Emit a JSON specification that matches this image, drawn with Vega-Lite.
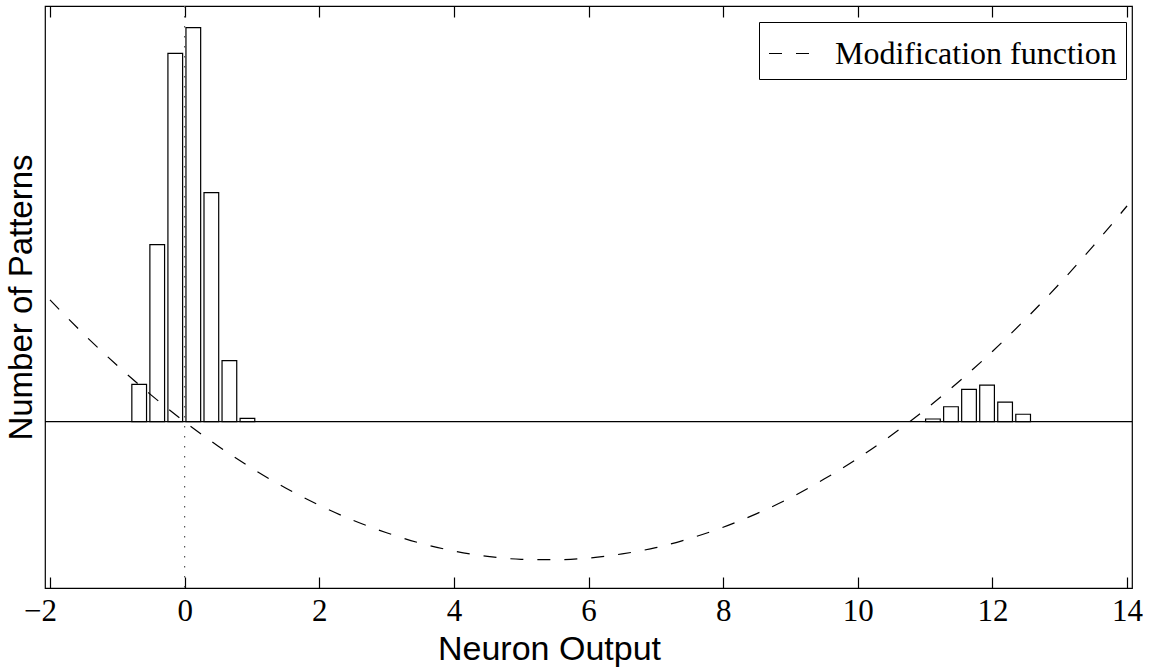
{
  "$schema": "https://vega.github.io/schema/vega-lite/v6.json",
  "autosize": "none",
  "width": 1087,
  "height": 582,
  "padding": {"left": 45, "top": 6, "right": 24, "bottom": 81},
  "background": "white",
  "config": {
    "view": {"stroke": "black", "strokeWidth": 1.2},
    "axis": {"labelFont": "Liberation Serif", "titleFont": "Liberation Sans", "titleFontWeight": "normal", "labelColor": "black", "titleColor": "black", "tickColor": "black", "domainColor": "black", "grid": false}
  },
  "datasets": {
    "hist": [
      {"x": -0.675, "count": 0.090},
      {"x": -0.407, "count": 0.426},
      {"x": -0.139, "count": 0.886},
      {"x": 0.129, "count": 0.948},
      {"x": 0.397, "count": 0.551},
      {"x": 0.665, "count": 0.147},
      {"x": 0.933, "count": 0.008},
      {"x": 11.117, "count": 0.0065},
      {"x": 11.385, "count": 0.036},
      {"x": 11.653, "count": 0.078},
      {"x": 11.921, "count": 0.088},
      {"x": 12.189, "count": 0.047},
      {"x": 12.457, "count": 0.018}
    ],
    "curve": [
      {"x": -2, "f": 0.293, "series": "Modification function"},
      {"x": -1.5, "f": 0.211, "series": "Modification function"},
      {"x": -1, "f": 0.135, "series": "Modification function"},
      {"x": -0.5, "f": 0.0646, "series": "Modification function"},
      {"x": 0, "f": 0, "series": "Modification function"},
      {"x": 0.5, "f": -0.0589, "series": "Modification function"},
      {"x": 1, "f": -0.112, "series": "Modification function"},
      {"x": 1.5, "f": -0.1595, "series": "Modification function"},
      {"x": 2, "f": -0.201, "series": "Modification function"},
      {"x": 2.5, "f": -0.237, "series": "Modification function"},
      {"x": 3, "f": -0.267, "series": "Modification function"},
      {"x": 3.5, "f": -0.292, "series": "Modification function"},
      {"x": 4, "f": -0.311, "series": "Modification function"},
      {"x": 4.5, "f": -0.324, "series": "Modification function"},
      {"x": 5, "f": -0.331, "series": "Modification function"},
      {"x": 5.5, "f": -0.332, "series": "Modification function"},
      {"x": 6, "f": -0.328, "series": "Modification function"},
      {"x": 6.5, "f": -0.318, "series": "Modification function"},
      {"x": 7, "f": -0.303, "series": "Modification function"},
      {"x": 7.5, "f": -0.281, "series": "Modification function"},
      {"x": 8, "f": -0.254, "series": "Modification function"},
      {"x": 8.5, "f": -0.221, "series": "Modification function"},
      {"x": 9, "f": -0.183, "series": "Modification function"},
      {"x": 9.5, "f": -0.138, "series": "Modification function"},
      {"x": 10, "f": -0.0883, "series": "Modification function"},
      {"x": 10.5, "f": -0.0325, "series": "Modification function"},
      {"x": 11, "f": 0.029, "series": "Modification function"},
      {"x": 11.5, "f": 0.0963, "series": "Modification function"},
      {"x": 12, "f": 0.169, "series": "Modification function"},
      {"x": 12.5, "f": 0.248, "series": "Modification function"},
      {"x": 13, "f": 0.3325, "series": "Modification function"},
      {"x": 13.5, "f": 0.423, "series": "Modification function"},
      {"x": 14, "f": 0.519, "series": "Modification function"}
    ]
  },
  "resolve": {"axis": {"x": "independent", "y": "independent"}},
  "layer": [
    {
      "data": {"name": "hist"},
      "mark": {"type": "bar", "width": 14.7, "fill": "white", "stroke": "black", "strokeWidth": 1.2},
      "encoding": {
        "x": {"field": "x", "type": "quantitative",
          "scale": {"domain": [-2, 14], "nice": false, "zero": false},
          "axis": {"orient": "bottom", "values": [-2, 0, 2, 4, 6, 8, 10, 12, 14], "format": "d", "title": "Neuron Output", "titleFontSize": 34, "titlePadding": 6, "titleX": 504, "labelFontSize": 31, "labelPadding": 8, "labelOffset": {"condition": {"test": "datum.value < 0", "value": -10}, "value": 0}, "offset": -11, "tickSize": 11, "tickWidth": 1.2, "domain": false, "labelFlush": false}},
        "y": {"field": "count", "type": "quantitative",
          "scale": {"domain": [-0.4, 1], "nice": false, "zero": false},
          "axis": {"orient": "left", "title": "Number of Patterns", "titleFontSize": 33, "titlePadding": 7, "labels": false, "ticks": false, "domain": false}},
        "y2": {"datum": 0}
      }
    },
    {
      "data": {"values": [{}]},
      "mark": {"type": "rule", "color": "black", "strokeWidth": 1.2},
      "encoding": {"y": {"datum": 0, "axis": null}}
    },
    {
      "data": {"values": [{}]},
      "mark": {"type": "rule", "color": "#555555", "strokeWidth": 1.2, "strokeDash": [1.5, 8.5]},
      "encoding": {"x": {"datum": 0,
        "axis": {"orient": "top", "values": [-2, 0, 2, 4, 6, 8, 10, 12, 14], "labels": false, "title": null, "offset": -11, "ticks": true, "tickSize": 11, "tickWidth": 1.2, "tickColor": "black", "domain": false}}}
    },
    {
      "data": {"name": "curve"},
      "mark": {"type": "line", "color": "black", "strokeWidth": 1.2, "interpolate": "monotone"},
      "encoding": {
        "x": {"field": "x", "type": "quantitative", "axis": null},
        "y": {"field": "f", "type": "quantitative", "axis": null},
        "strokeDash": {"field": "series", "type": "nominal",
          "scale": {"range": [[13, 14]]},
          "legend": {"orient": "none", "legendX": 714, "legendY": 16, "title": null, "strokeColor": "black", "fillColor": "white", "padding": 9, "labelFont": "Liberation Serif", "labelFontSize": 32, "labelColor": "black", "labelLimit": 400, "labelOffset": 22, "symbolType": "stroke", "symbolSize": 1850, "symbolStrokeWidth": 1.2, "symbolStrokeColor": "black", "symbolDash": [13, 14]}}
      }
    }
  ]
}
